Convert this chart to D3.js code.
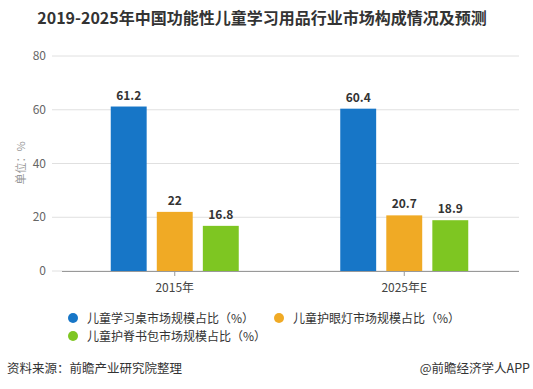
<!DOCTYPE html>
<html>
<head>
<meta charset="utf-8">
<script src="https://d3js.org/d3.v7.min.js"></script>
<style>
  body { margin: 0; background: #fff; }
  text { font-family: "Microsoft YaHei", "Noto Sans CJK SC", sans-serif; }
</style>
</head>
<body>
<svg id="chart" width="533" height="389"></svg>
<script>
  // data
  let categories = ['2015年', '2025年E']
  let seriesNames = ['儿童学习桌市场规模占比（%）', '儿童护眼灯市场规模占比（%）', '儿童护脊书包市场规模占比（%）']
  let deskValues = [61.2, 60.4]
  let lampValues = [22, 20.7]
  let bagValues = [16.8, 18.9]
  let yTicks = [0, 20, 40, 60, 80]
  let colors = ['#1776c7', '#f0aa25', '#7ec622']

  let series = [deskValues, lampValues, bagValues]

  let svg = d3.select('#chart')

  svg.append('text')
    .attr('x', 262)
    .attr('y', 24)
    .attr('text-anchor', 'middle')
    .style('font-size', '16px')
    .style('font-weight', 'bold')
    .style('fill', '#333')
    .text('2019-2025年中国功能性儿童学习用品行业市场构成情况及预测')

  let x0 = d3.scaleBand().domain(categories).range([60, 519])
  let x1 = d3.scaleBand().domain(d3.range(series.length)).range([0, 128]).paddingInner(0.22)
  let y = d3.scaleLinear().domain([0, 80]).range([271, 56])

  // gridlines
  svg.append('g')
    .selectAll('line')
    .data(yTicks)
    .enter()
    .append('line')
    .attr('x1', 52)
    .attr('x2', 519)
    .attr('y1', d => y(d))
    .attr('y2', d => y(d))
    .attr('stroke', '#e0e0e0')
    .attr('stroke-width', 1)

  // y axis labels
  svg.append('g')
    .selectAll('text')
    .data(yTicks)
    .enter()
    .append('text')
    .attr('x', 46)
    .attr('y', d => y(d) + 4)
    .attr('text-anchor', 'end')
    .style('font-size', '12px')
    .style('fill', '#666')
    .text(d => d)

  svg.append('text')
    .attr('transform', 'translate(25, 163) rotate(-90)')
    .attr('text-anchor', 'middle')
    .style('font-size', '11px')
    .style('fill', '#999')
    .text('单位：%')

  // bars
  for (let i = 0; i < series.length; i++) {
    let g = svg.append('g')
    g.selectAll('rect')
      .data(series[i])
      .enter()
      .append('rect')
      .attr('x', (d, j) => x0(categories[j]) + x0.bandwidth() / 2 - 64 + x1(i))
      .attr('y', d => y(d))
      .attr('width', x1.bandwidth())
      .attr('height', d => y(0) - y(d))
      .attr('fill', colors[i])

    g.selectAll('text')
      .data(series[i])
      .enter()
      .append('text')
      .attr('x', (d, j) => x0(categories[j]) + x0.bandwidth() / 2 - 64 + x1(i) + x1.bandwidth() / 2)
      .attr('y', d => y(d) - 7)
      .attr('text-anchor', 'middle')
      .style('font-size', '12px')
      .style('font-weight', 'bold')
      .style('fill', '#333')
      .text(d => d)
  }

  // x axis
  let xAxis = svg.append('g').attr('transform', 'translate(0,' + y(0) + ')')
    .call(d3.axisBottom(x0).tickSize(5).tickSizeOuter(0))
  xAxis.select('.domain').attr('stroke', '#999').attr('d', 'M62,0.5H519')
  xAxis.selectAll('.tick line').attr('stroke', '#999')
  xAxis.selectAll('.tick text')
    .attr('dy', '1.1em')
    .style('font-size', '12px')
    .style('fill', '#444')
    .style('font-family', '"Microsoft YaHei", "Noto Sans CJK SC", sans-serif')

  // legend
  let legendPos = [[73, 318], [279, 318], [73, 336]]
  let legend = svg.append('g')
    .selectAll('g')
    .data(seriesNames)
    .enter()
    .append('g')
    .attr('transform', (d, i) => 'translate(' + legendPos[i][0] + ',' + legendPos[i][1] + ')')
  legend.append('circle')
    .attr('r', 5)
    .attr('fill', (d, i) => colors[i])
  legend.append('text')
    .attr('x', 14)
    .attr('y', 4.5)
    .style('font-size', '12px')
    .style('fill', '#333')
    .text(d => d)

  // footer
  svg.append('text')
    .attr('x', 7)
    .attr('y', 373)
    .style('font-size', '12.5px')
    .style('fill', '#333')
    .text('资料来源：前瞻产业研究院整理')
  svg.append('text')
    .attr('x', 530)
    .attr('y', 373)
    .attr('text-anchor', 'end')
    .style('font-size', '12.5px')
    .style('fill', '#333')
    .text('@前瞻经济学人APP')
</script>
</body>
</html>
